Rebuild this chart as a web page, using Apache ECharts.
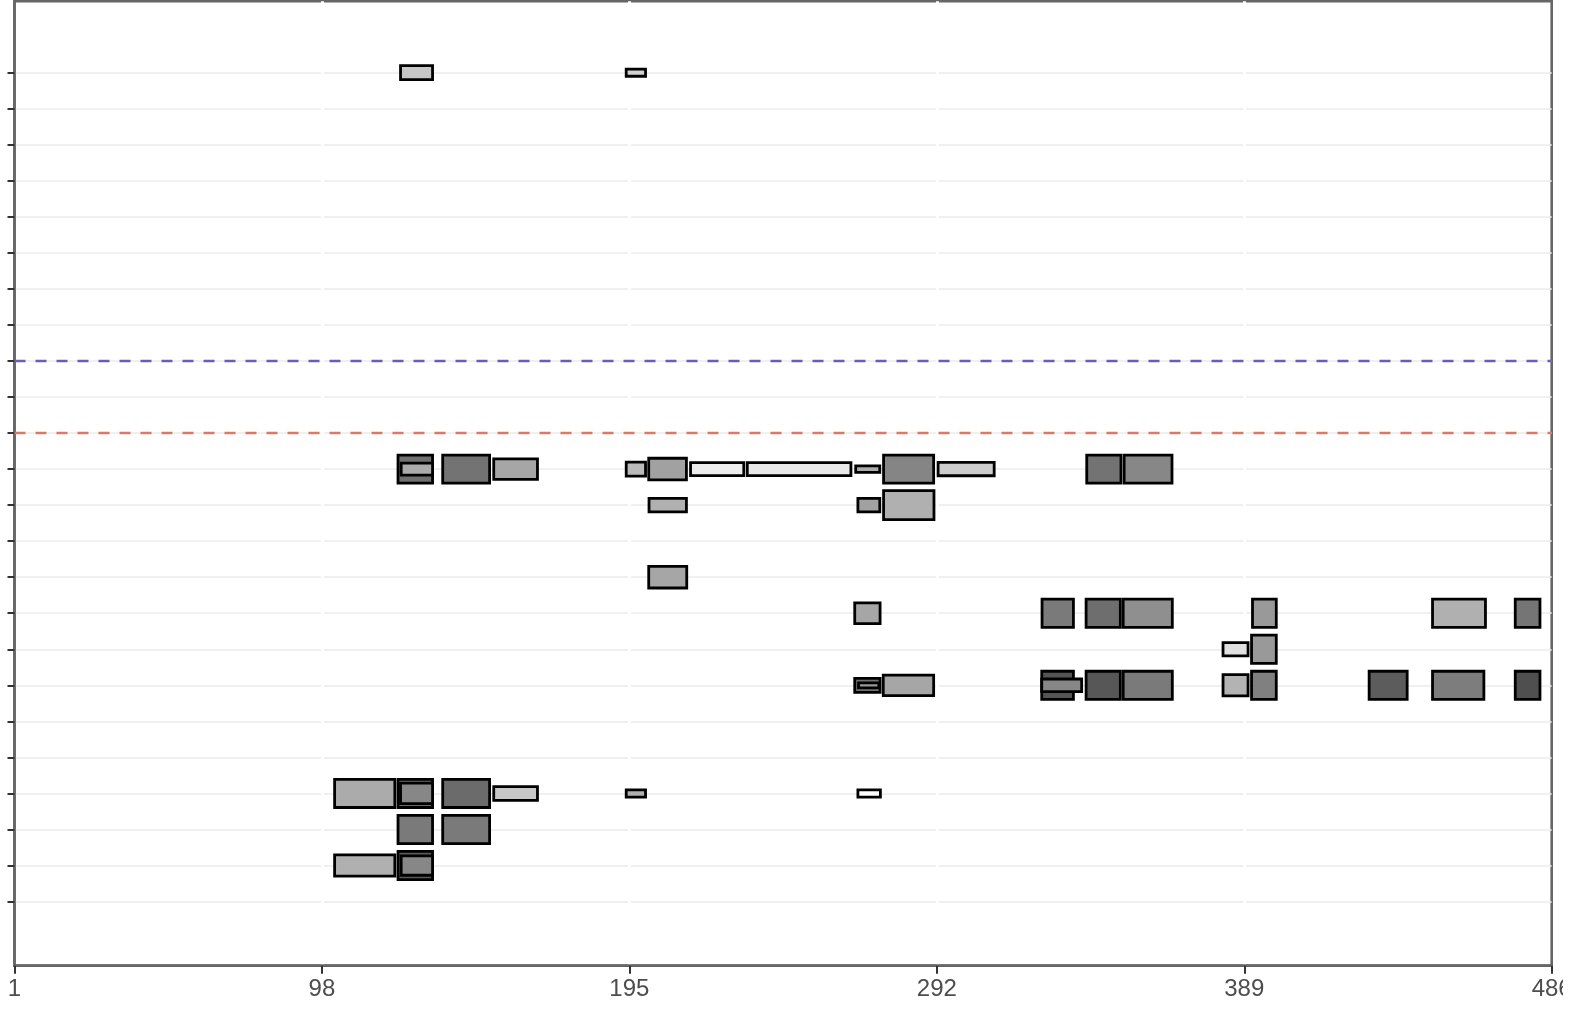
<!DOCTYPE html>
<html><head><meta charset="utf-8">
<script src="https://cdn.jsdelivr.net/npm/echarts@6/dist/echarts.min.js"></script>
<style>html,body{margin:0;padding:0;background:#fff;overflow:hidden}#chart{width:1563px;height:1009px}</style>
</head><body><div id="chart"></div>
<script>
const xTicks = [1, 98, 195, 292, 389, 486];
const yTicks = [0,1,2,3,4,5,6,7,8,9,10,11,12,13,14,15,16,17,18,19,20,21,22,23];
const blueRefRow = 8;
const redRefRow = 10;

const segStart = [122.8,194.0, 122.0,123.0,136.1,152.2,194.0,201.1,214.3,232.2,266.4,275.2,292.4,339.3,351.1, 201.2,267.1,275.2, 201.1, 266.1,325.2,339.1,350.8,391.6,448.4,474.5, 382.3,391.3, 266.1,267.3,275.1,325.1,325.1,339.1,350.8,382.3,391.3,428.4,448.4,474.5, 102.0,122.0,122.8,136.1,152.2,194.0,267.1, 122.0,136.1, 102.0,122.0,123.0];
const segEnd = [132.9,200.1, 132.9,132.9,150.9,166.0,200.1,213.0,231.1,264.9,274.0,291.0,310.1,350.1,366.2, 213.0,274.0,291.1, 213.1, 274.1,335.1,349.9,366.3,399.1,465.1,482.3, 390.2,399.1, 274.1,273.7,291.0,335.1,337.7,349.9,366.3,390.2,399.1,440.4,464.6,482.3, 121.0,132.9,132.9,150.9,166.0,200.1,274.2, 132.9,150.9, 121.0,132.9,132.9];
const segRow = [0,0, 11,11,11,11,11,11,11,11,11,11,11,11,11, 12,12,12, 14, 15,15,15,15,15,15,15, 16,16, 17,17,17,17,17,17,17,17,17,17,17,17, 20,20,20,20,20,20,20, 21,21, 22,22,22];
const segHeight = [0.39,0.20, 0.78,0.33,0.78,0.57,0.39,0.60,0.36,0.36,0.18,0.78,0.37,0.78,0.78, 0.37,0.37,0.80, 0.60, 0.58,0.78,0.78,0.78,0.78,0.78,0.78, 0.37,0.78, 0.39,0.14,0.57,0.78,0.35,0.78,0.78,0.59,0.78,0.78,0.78,0.78, 0.78,0.78,0.57,0.78,0.38,0.20,0.20, 0.78,0.78, 0.59,0.78,0.54];
const segShade = [0.22,0.18, 0.56,0.33,0.55,0.35,0.27,0.37,0.07,0.09,0.33,0.48,0.20,0.55,0.47, 0.31,0.37,0.31, 0.35, 0.35,0.52,0.57,0.44,0.40,0.31,0.54, 0.12,0.40, 0.56,0.40,0.35,0.67,0.47,0.66,0.52,0.30,0.50,0.64,0.51,0.69, 0.33,0.58,0.47,0.58,0.22,0.31,0.00, 0.52,0.52, 0.31,0.65,0.47];

const segData = segStart.map((s, i) => [s, segEnd[i], segRow[i], segHeight[i], segShade[i]]);
const xMin = xTicks[0], xMax = xTicks[xTicks.length - 1];

const chart = echarts.init(document.getElementById('chart'), null, {renderer: 'canvas'});
chart.setOption({
  animation: false,
  backgroundColor: '#ffffff',
  grid: {left: 14.5, right: 11.3, top: 1.3, bottom: 43.3, outerBoundsMode: 'none', containLabel: false, show: true, borderColor: '#666666', borderWidth: 2.6, backgroundColor: '#ffffff'},
  xAxis: {
    type: 'value', min: xMin, max: xMax, z: 1,
    axisLine: {show: true, onZero: false, lineStyle: {color: '#666666', width: 2.6}},
    axisTick: {show: true, customValues: xTicks, length: 8, lineStyle: {color: '#333333', width: 2}},
    axisLabel: {show: true, customValues: xTicks, margin: 12, color: '#4d4d4d', fontSize: 24, fontFamily: 'Liberation Sans, Arial, sans-serif'},
    splitLine: {show: true, showMinLine: false, showMaxLine: false, lineStyle: {color: '#ffffff', width: 3}}
  },
  yAxis: {
    type: 'value', inverse: true, min: -1.98, max: 24.78, z: 0,
    axisLine: {show: true, onZero: false, lineStyle: {color: '#666666', width: 2.6}},
    axisTick: {show: true, customValues: yTicks, length: 7, lineStyle: {color: '#333333', width: 2}},
    axisLabel: {show: false, customValues: yTicks},
    splitLine: {show: true, lineStyle: {color: '#ebebeb', width: 1.5}}
  },
  visualMap: {show: false, type: 'continuous', seriesIndex: 0, dimension: 4, min: 0, max: 1, inRange: {color: ['#ffffff', '#000000']}},
  series: [
    {
      type: 'custom',
      data: segData,
      encode: {x: [0, 1], y: 2},
      renderItem: function (params, api) {
        const x0 = api.value(0), x1 = api.value(1), r = api.value(2), h = api.value(3);
        const p0 = api.coord([x0, r - h / 2]);
        const p1 = api.coord([x1, r + h / 2]);
        return {
          type: 'rect',
          shape: {x: Math.min(p0[0], p1[0]), y: Math.min(p0[1], p1[1]), width: Math.abs(p1[0] - p0[0]), height: Math.abs(p1[1] - p0[1])},
          style: {fill: api.visual('color'), stroke: '#000000', lineWidth: 2.8}
        };
      }
    },
    {
      type: 'line', symbol: 'none', silent: true,
      data: [[xMin, blueRefRow], [xMax, blueRefRow]],
      lineStyle: {color: '#6a5cb8', width: 2.4, type: [11, 10]}
    },
    {
      type: 'line', symbol: 'none', silent: true,
      data: [[xMin, redRefRow], [xMax, redRefRow]],
      lineStyle: {color: '#dd7866', width: 2.4, type: [11, 10]}
    }
  ]
});
</script>
</body></html>
